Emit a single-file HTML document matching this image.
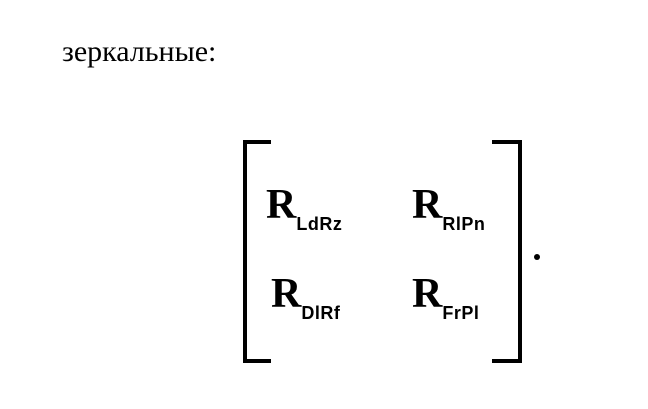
<!DOCTYPE html>
<html><head><style>
body{margin:0;width:648px;height:409px;background:#fff;position:relative;overflow:hidden;font-family:"Liberation Serif",serif;color:#000}
.t{position:absolute;left:62px;top:35px;font-size:30px}
.b{position:absolute;background:#000}
.R{position:absolute;font-weight:bold;font-size:42px;line-height:1}
.R sub{font-family:"Liberation Sans",sans-serif;font-size:18px;font-weight:bold;vertical-align:0;position:relative;top:12px;letter-spacing:0.5px}
</style></head><body>
<div class="t">зеркальные:</div>
<div class="b" style="left:243px;top:140px;width:4px;height:223px"></div>
<div class="b" style="left:243px;top:140px;width:28px;height:4px"></div>
<div class="b" style="left:243px;top:359px;width:28px;height:4px"></div>
<div class="b" style="left:518px;top:140px;width:4px;height:223px"></div>
<div class="b" style="left:492px;top:140px;width:30px;height:4px"></div>
<div class="b" style="left:492px;top:359px;width:30px;height:4px"></div>
<div class="b" style="left:534px;top:254px;width:6px;height:6px;border-radius:50%"></div>
<div class="R" style="left:266px;top:184px">R<sub>LdRz</sub></div>
<div class="R" style="left:412px;top:184px">R<sub>RlPn</sub></div>
<div class="R" style="left:271px;top:273px">R<sub>DlRf</sub></div>
<div class="R" style="left:412px;top:273px">R<sub>FrPl</sub></div>
</body></html>
